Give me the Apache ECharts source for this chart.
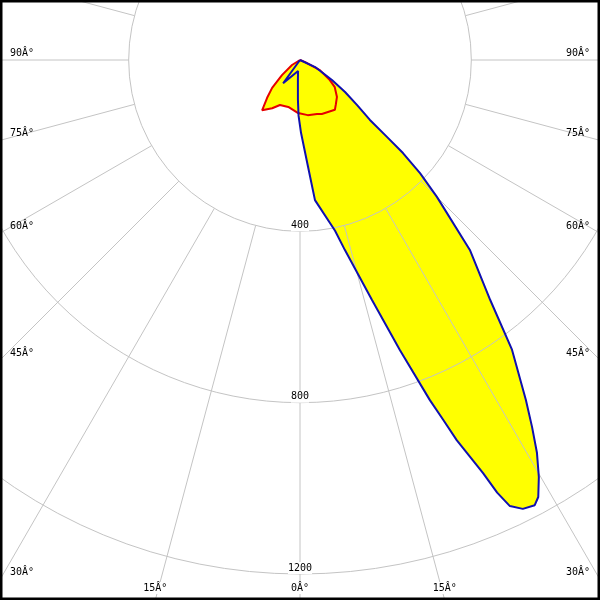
<!DOCTYPE html>
<html>
<head>
<meta charset="utf-8">
<script src="https://cdn.jsdelivr.net/npm/echarts@6/dist/echarts.min.js"></script>
<style>
html,body{margin:0;padding:0;background:#fff;}
#chart{width:600px;height:600px;}
</style>
</head>
<body>
<div id="chart"></div>
<script>
// Angles in degrees from nadir (0 = straight down), positive to the right; values in cd
const blueAngles = [-90, -40, -36, -10, -6, -3, -1.5, 0.8, 4.3, 6.1, 11.6, 13.3, 16.7, 19, 20.9, 21.7, 22.4, 23.2, 23.9, 24.5, 25.2, 26.4, 27.8, 28.6, 29.8, 31.1, 32.3, 33.6, 36.2, 38.4, 41.8, 45, 46.7, 47.9, 48.5, 49.4, 51.7, 54.6, 58, 65, 90];
const blueValues = [0, 0, 67, 26, 47, 93, 130, 170, 250, 329, 407, 456, 585, 716, 850, 904, 960, 1008, 1055, 1110, 1151, 1170, 1175, 1162, 1122, 1071, 1014, 953, 838, 715, 595, 452, 385, 324, 271, 215, 170, 129, 88, 39, 0];

const redAngles = [-90, -58, -50, -45, -41, -37, -30, -24, -14, -2, 0, 8, 17.5, 22, 35, 39, 45, 52, 56, 63, 68, 90];
const redValues = [0, 22, 55, 92, 117, 147, 130, 115, 113, 124, 128, 130, 132, 136, 142, 133, 122, 103, 84, 52, 13, 0];

const radialTicks = [400, 800, 1200];
const angleTicks = [-90, -75, -60, -45, -30, -15, 0, 15, 30, 45, 60, 75, 90];
const degSuffix = 'Â°';

const GRID = '#c4c4c4';
const BLUE = '#1010b0';
const RED = '#e60000';
const FILL = '#ffff00';

function pairs(a, v) { return a.map((t, i) => [v[i], t]); }

const chart = echarts.init(document.getElementById('chart'), null, {renderer: 'canvas'});

const option = {
  animation: false,
  backgroundColor: '#ffffff',
  polar: [
    {center: [300, 60], radius: 514},
    {center: [300, 60], radius: [171.33, 900]}
  ],
  radiusAxis: [
    {polarIndex: 0, type: 'value', min: 0, max: 1200, interval: 400,
     axisLine: {show: false}, axisTick: {show: false}, axisLabel: {show: false},
     splitLine: {show: true, lineStyle: {color: GRID, width: 1}}, z: 5},
    {polarIndex: 1, type: 'value', min: 0, max: 1,
     axisLine: {show: false}, axisTick: {show: false}, axisLabel: {show: false},
     splitLine: {show: false}}
  ],
  angleAxis: [
    {polarIndex: 0, type: 'value', min: -180, max: 180, startAngle: 90, clockwise: false,
     axisLine: {show: false}, axisTick: {show: false}, axisLabel: {show: false},
     splitLine: {show: false}},
    {polarIndex: 1, type: 'value', min: -180, max: 180, interval: 15, startAngle: 90, clockwise: false,
     axisLine: {show: false}, axisTick: {show: false}, axisLabel: {show: false},
     splitLine: {show: true, lineStyle: {color: GRID, width: 1}}, z: 5}
  ],
  series: [
    {type: 'line', coordinateSystem: 'polar', polarIndex: 0, data: pairs(blueAngles, blueValues),
     symbol: 'none', silent: true, lineStyle: {width: 0, opacity: 0},
     areaStyle: {color: FILL, opacity: 1}, z: 1},
    {type: 'line', coordinateSystem: 'polar', polarIndex: 0, data: pairs(redAngles, redValues),
     symbol: 'none', silent: true, lineStyle: {width: 0, opacity: 0},
     areaStyle: {color: FILL, opacity: 1}, z: 1},
    {type: 'line', coordinateSystem: 'polar', polarIndex: 0, data: pairs(redAngles, redValues),
     symbol: 'none', silent: true, lineStyle: {color: RED, width: 2}, z: 10},
    {type: 'line', coordinateSystem: 'polar', polarIndex: 0, data: pairs(blueAngles, blueValues),
     symbol: 'none', silent: true, lineStyle: {color: BLUE, width: 2}, z: 11}
  ]
};
chart.setOption(option);

// Labels positioned through the polar coordinate system
const W = 600, H = 600;
const c = chart.convertToPixel({polarIndex: 0}, [0, 0]);
const FONT = '10px "DejaVu Sans Mono"';
const graphics = [];

radialTicks.forEach(r => {
  const p = chart.convertToPixel({polarIndex: 0}, [r, 0]);
  graphics.push({type: 'text', x: p[0], y: p[1] - 6, z: 30,
    style: {text: String(r), font: FONT, fill: '#000', align: 'center', verticalAlign: 'middle',
            backgroundColor: '#fff', padding: [1, 0]}});
});

angleTicks.forEach(a => {
  const p = chart.convertToPixel({polarIndex: 0}, [1200, a]);
  const dx = (p[0] - c[0]), dy = (p[1] - c[1]);
  const txt = Math.abs(a) + degSuffix;
  if (Math.abs(dx) > 1e-6) {
    const sideX = dx > 0 ? W : 0;
    const t = (sideX - c[0]) / dx;
    const y = c[1] + t * dy;
    if (y <= H - 12) {
      graphics.push({type: 'text', x: dx > 0 ? W - 10 : 10, y: y - 7, z: 30,
        style: {text: txt, font: FONT, fill: '#000', align: dx > 0 ? 'right' : 'left', verticalAlign: 'middle'}});
      return;
    }
  }
  const t = (H - c[1]) / dy;
  const x = c[0] + t * dx;
  graphics.push({type: 'text', x: x, y: H - 12, z: 30,
    style: {text: txt, font: FONT, fill: '#000', align: 'center', verticalAlign: 'middle',
            backgroundColor: '#fff', padding: [1, 0]}});
});

graphics.push({type: 'rect', shape: {x: 0, y: 0, width: W, height: H}, z: 40,
  style: {fill: null, stroke: '#000', lineWidth: 5}});

chart.setOption({graphic: graphics});
</script>
</body>
</html>
